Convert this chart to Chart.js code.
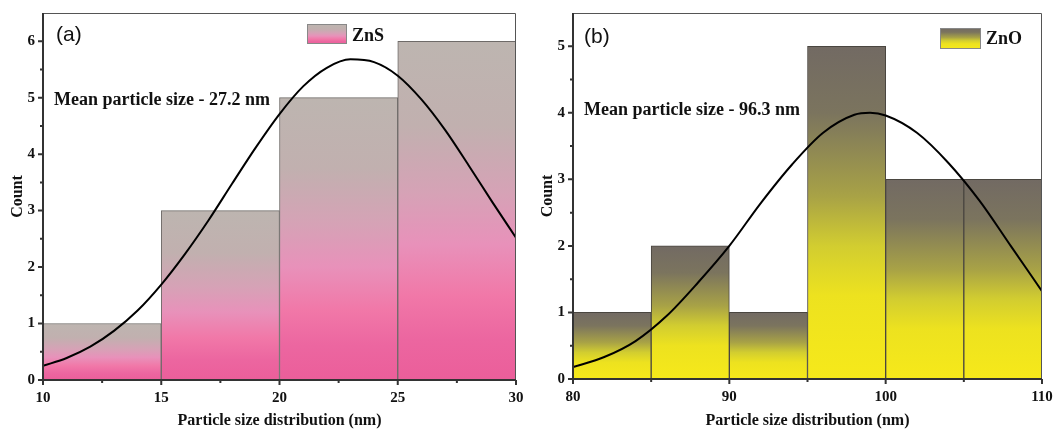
<!DOCTYPE html>
<html>
<head>
<meta charset="utf-8">
<script src="https://cdn.jsdelivr.net/npm/chart.js@4.4.1/dist/chart.umd.min.js"></script>
<style>
  body { margin: 0; background: #fff; }
  #wrap { position: relative; width: 1059px; height: 429px; }
  .panel { position: absolute; top: 0; height: 429px; }
</style>
</head>
<body>
<div id="wrap">
  <div class="panel" style="left:0;width:530px"><canvas id="zns-chart"></canvas></div>
  <div class="panel" style="left:530px;width:529px"><canvas id="zno-chart"></canvas></div>
</div>
<script>
// ZnS histogram (bins of 5 nm) + fitted curve
const znsBinCenters = [12.5, 17.5, 22.5, 27.5];
const znsCounts = [1, 3, 5, 6];
const znsFitX = [10, 11, 12, 13, 14, 15, 16, 17, 18, 19, 20, 21, 22, 23, 24, 25, 26, 27, 28, 29, 30];
const znsFitY = [0.25, 0.39, 0.59, 0.87, 1.23, 1.69, 2.23, 2.83, 3.48, 4.12, 4.71, 5.2, 5.53, 5.68, 5.63, 5.39, 4.97, 4.43, 3.8, 3.15, 2.52];
const znsXLabels = [10, 15, 20, 25, 30];
const znsYLabels = [0, 1, 2, 3, 4, 5, 6];

// ZnO histogram
const znoBinCenters = [82.5, 87.5, 92.5, 97.5, 102.5, 107.5];
const znoCounts = [1, 2, 1, 5, 3, 3];
const znoFitX = [80, 82, 84, 86, 88, 90, 92, 94, 96, 98, 99, 100, 102, 104, 106, 108, 110];
const znoFitY = [0.18, 0.33, 0.57, 0.95, 1.45, 2.0, 2.64, 3.22, 3.7, 3.97, 4.0, 3.96, 3.7, 3.25, 2.68, 2.0, 1.32];
const znoXLabels = [80, 90, 100, 110];
const znoYLabels = [0, 1, 2, 3, 4, 5];

const pinkStops = [[0, '#bdb5b0'], [0.25, '#c1b0af'], [0.45, '#d6a2b6'], [0.6, '#e891ba'], [0.75, '#f178a8'], [0.88, '#ec66a0'], [1, '#eb5e9a']];
const yellowStops = [[0, '#726a63'], [0.2, '#7b745e'], [0.45, '#a8a246'], [0.6, '#d2cd30'], [0.75, '#ede21f'], [1, '#f6e91a']];

Chart.defaults.font.family = '"Liberation Serif", "Times New Roman", serif';
Chart.defaults.font.weight = 'bold';
Chart.defaults.color = '#111';

const makeGradient = (ctx, top, bottom, stops) => {
    const g = ctx.createLinearGradient(0, top, 0, bottom);
    stops.forEach(s => g.addColorStop(s[0], s[1]));
    return g;
};

// frame, axis lines and major/minor tick marks (minor = halfway between labels)
const axesFrame = {
    id: 'axesFrame',
    afterDatasetsDraw(chart, args, opts) {
        const { ctx, chartArea: a, scales: { x, y } } = chart;
        ctx.save();
        ctx.strokeStyle = '#555';
        ctx.lineWidth = 1;
        ctx.beginPath();
        ctx.moveTo(a.left, a.top + 0.5);
        ctx.lineTo(a.right - 0.5, a.top + 0.5);
        ctx.lineTo(a.right - 0.5, a.bottom);
        ctx.stroke();

        ctx.strokeStyle = '#333';
        ctx.lineWidth = 2;
        ctx.beginPath();
        ctx.moveTo(a.left, a.top);
        ctx.lineTo(a.left, a.bottom);
        ctx.lineTo(a.right, a.bottom);
        const xMarks = opts.xLabels.map(v => [v, 5]);
        opts.xLabels.slice(1).forEach((v, i) => xMarks.push([(v + opts.xLabels[i]) / 2, 3]));
        xMarks.forEach(([v, len]) => {
            const px = x.getPixelForValue(v);
            ctx.moveTo(px, a.bottom);
            ctx.lineTo(px, a.bottom + len);
        });
        const yMarks = opts.yLabels.map(v => [v, 5]);
        opts.yLabels.slice(1).forEach((v, i) => yMarks.push([(v + opts.yLabels[i]) / 2, 3]));
        yMarks.forEach(([v, len]) => {
            const py = y.getPixelForValue(v);
            ctx.moveTo(a.left, py);
            ctx.lineTo(a.left - len, py);
        });
        ctx.stroke();
        ctx.restore();
    }
};

// panel letter, legend box and mean size note
const notes = {
    id: 'notes',
    afterDraw(chart, args, o) {
        const ctx = chart.ctx;
        ctx.save();
        ctx.fillStyle = '#111';
        ctx.textBaseline = 'alphabetic';
        ctx.font = '21px "Liberation Sans", Arial, sans-serif';
        ctx.fillText(o.letter, o.letterX, o.letterY);

        ctx.font = 'bold 18px "Liberation Serif", "Times New Roman", serif';
        ctx.fillText(o.mean, o.meanX, o.meanY);

        const b = o.box;
        ctx.fillStyle = makeGradient(ctx, b[1], b[1] + b[3], o.stops);
        ctx.fillRect(b[0], b[1], b[2], b[3]);
        ctx.strokeStyle = '#888';
        ctx.lineWidth = 1;
        ctx.strokeRect(b[0] + 0.5, b[1] + 0.5, b[2] - 1, b[3] - 1);
        ctx.fillStyle = '#111';
        ctx.fillText(o.name, b[0] + b[2] + 5, o.nameY);
        ctx.restore();
    }
};

const buildChart = (id, cfg) => {
    const barFill = ctx => {
        const chart = ctx.chart;
        const last = cfg.stops[cfg.stops.length - 1][1];
        if (!chart.chartArea || ctx.type !== 'data') return last;
        const yScale = chart.scales.y;
        const top = yScale.getPixelForValue(ctx.raw.y);
        const bottom = yScale.getPixelForValue(0);
        return makeGradient(chart.ctx, top, bottom, cfg.stops);
    };

    return new Chart(document.getElementById(id), {
        data: {
            datasets: [
                {
                    type: 'line',
                    label: 'fit',
                    data: cfg.fitX.map((v, i) => ({ x: v, y: cfg.fitY[i] })),
                    borderColor: '#000',
                    borderWidth: 2,
                    pointRadius: 0,
                    cubicInterpolationMode: 'monotone',
                    order: 0
                },
                {
                    type: 'bar',
                    label: cfg.name,
                    data: cfg.centers.map((v, i) => ({ x: v, y: cfg.counts[i] })),
                    backgroundColor: barFill,
                    borderColor: cfg.edge,
                    borderWidth: 1,
                    borderSkipped: 'bottom',
                    barPercentage: 1,
                    categoryPercentage: 1,
                    order: 1
                }
            ]
        },
        options: {
            responsive: true,
            maintainAspectRatio: false,
            animation: false,
            layout: { padding: { top: 13, right: cfg.padRight, left: 0, bottom: 0 } },
            plugins: {
                legend: { display: false },
                tooltip: { enabled: false },
                axesFrame: { xLabels: cfg.xLabels, yLabels: cfg.yLabels },
                notes: cfg.notes
            },
            scales: {
                x: {
                    type: 'linear',
                    min: cfg.xMin,
                    max: cfg.xMax,
                    offset: false,
                    grid: { display: false, drawTicks: false },
                    border: { display: false },
                    ticks: {
                        stepSize: cfg.xStep,
                        padding: 9,
                        font: { size: 15 },
                        maxRotation: 0,
                        autoSkip: false,
                        callback: v => cfg.xLabels.includes(v) ? v : ''
                    },
                    title: {
                        display: true,
                        text: 'Particle size distribution (nm)',
                        font: { size: 16, lineHeight: 1 },
                        padding: { top: 0, bottom: 0 }
                    },
                    afterFit: s => {
                        s.height = cfg.xHeight;
                        s.paddingLeft = 0;
                        s.paddingRight = 0;
                    }
                },
                y: {
                    min: 0,
                    max: cfg.yMax,
                    grid: { display: false, drawTicks: false },
                    border: { display: false },
                    ticks: {
                        stepSize: 1,
                        padding: 8,
                        font: { size: 15 },
                        autoSkip: false,
                        callback: v => cfg.yLabels.includes(v) ? v : ''
                    },
                    title: {
                        display: true,
                        text: 'Count',
                        font: { size: 16, lineHeight: 1 },
                        padding: { top: 10, bottom: 0 }
                    },
                    afterFit: s => {
                        s.width = 43;
                        s.paddingTop = 0;
                        s.paddingBottom = 0;
                    }
                }
            }
        },
        plugins: [axesFrame, notes]
    });
};

buildChart('zns-chart', {
    name: 'ZnS',
    centers: znsBinCenters, counts: znsCounts,
    fitX: znsFitX, fitY: znsFitY,
    xLabels: znsXLabels, yLabels: znsYLabels,
    xMin: 10, xMax: 30, xStep: 5, yMax: 6.5,
    stops: pinkStops, edge: '#6e6a68',
    padRight: 14, xHeight: 49,
    notes: {
        letter: '(a)', letterX: 56, letterY: 41,
        mean: 'Mean particle size - 27.2 nm', meanX: 54, meanY: 105,
        name: 'ZnS', box: [307, 24, 40, 20], nameY: 41, stops: pinkStops
    }
});

buildChart('zno-chart', {
    name: 'ZnO',
    centers: znoBinCenters, counts: znoCounts,
    fitX: znoFitX, fitY: znoFitY,
    xLabels: znoXLabels, yLabels: znoYLabels,
    xMin: 80, xMax: 110, xStep: 10, yMax: 5.5,
    stops: yellowStops, edge: '#4a4640',
    padRight: 17, xHeight: 50,
    notes: {
        letter: '(b)', letterX: 54, letterY: 43,
        mean: 'Mean particle size - 96.3 nm', meanX: 54, meanY: 115,
        name: 'ZnO', box: [410, 28, 41, 21], nameY: 44, stops: yellowStops
    }
});
</script>
</body>
</html>
